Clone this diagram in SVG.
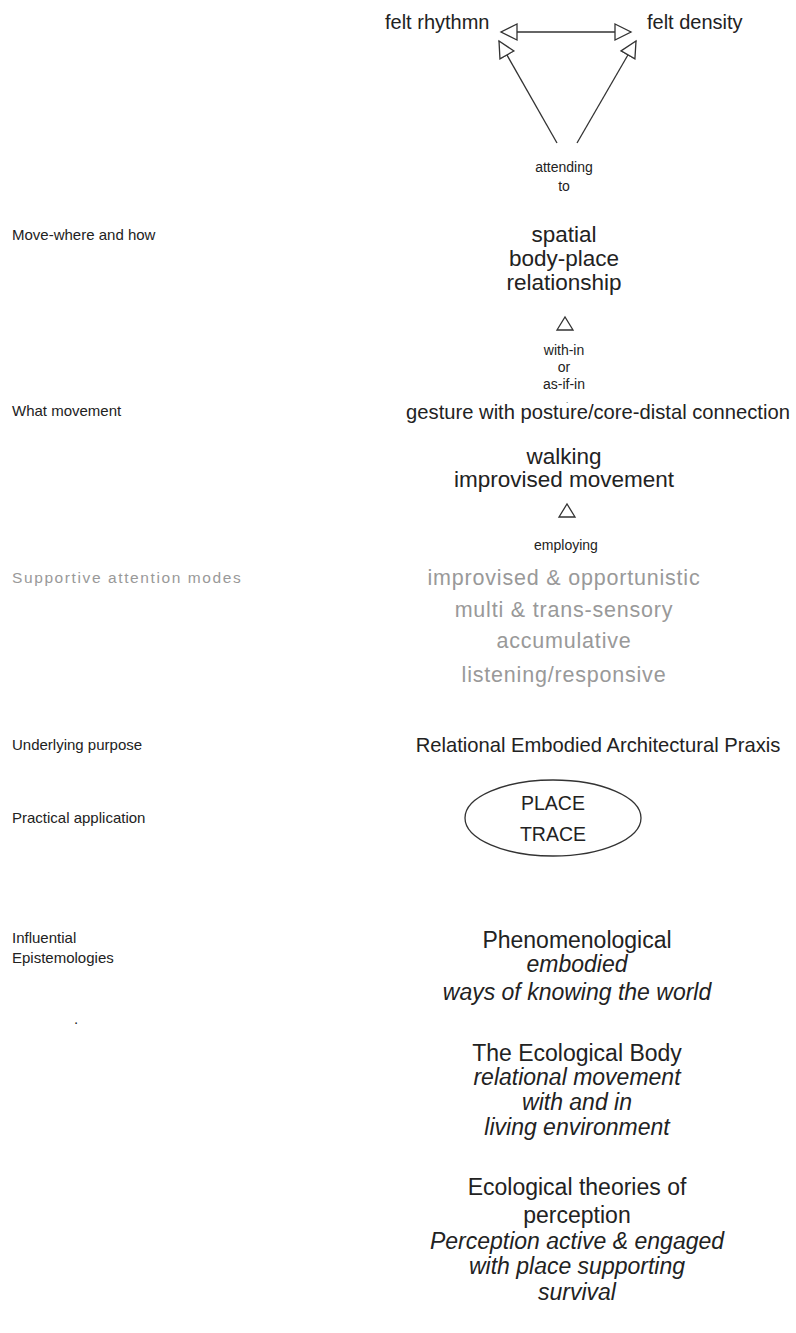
<svg xmlns="http://www.w3.org/2000/svg" width="796" height="1333" viewBox="0 0 796 1333">
  <style>
    text { font-family: "Liberation Sans", Arial, sans-serif; fill: #222; }
    .big { font-size: 22.5px; text-anchor: middle; }
    .wide { font-size: 20.2px; text-anchor: middle; }
    .felt { font-size: 20px; }
    .low { font-size: 23px; text-anchor: middle; }
    .lab { font-size: 14px; text-anchor: middle; }
    .side { font-size: 15px; }
    .mode { font-size: 21.5px; text-anchor: middle; fill: #999; letter-spacing: 0.8px; }
    .it { font-style: italic; }
    .line { stroke: #333; stroke-width: 1.3; fill: none; }
    .tri { stroke: #333; stroke-width: 1.3; fill: #fff; }
  </style>
  <defs>
    <marker id="openArrow" markerUnits="userSpaceOnUse" markerWidth="20" markerHeight="20" refX="17" refY="9" orient="auto-start-reverse" viewBox="0 0 20 18">
      <path d="M1,1 L17,9 L1,17 Z" fill="#fff" stroke="#333" stroke-width="1.3"/>
    </marker>
  </defs>
  <rect width="796" height="1333" fill="#fff"/>

  <!-- connectors -->
  <g id="connectors">
    <line class="line" x1="501" y1="32" x2="631" y2="32" marker-start="url(#openArrow)" marker-end="url(#openArrow)"/>
    <line class="line" x1="557" y1="143" x2="499" y2="41" marker-end="url(#openArrow)"/>
    <line class="line" x1="577" y1="143" x2="636" y2="41" marker-end="url(#openArrow)"/>
    <polygon class="tri" points="557,330 573,330 565,317"/>
    <polygon class="tri" points="559,517 575,517 567,504"/>
  </g>

  <!-- row labels -->
  <g id="row-labels">
    <text class="side" x="12" y="240">Move-where and how</text>
    <text class="side" x="12" y="416">What movement</text>
    <text class="side" x="12" y="583" style="font-size:15.5px;fill:#999;letter-spacing:1.6px">Supportive attention modes</text>
    <text class="side" x="12" y="750">Underlying purpose</text>
    <text class="side" x="12" y="823">Practical application</text>
    <text class="side" x="12" y="943">Influential</text>
    <text class="side" x="12" y="963">Epistemologies</text>
    <text class="side" x="74" y="1024">.</text>
  </g>

  <g id="felt-rhythmn"><text class="felt" x="385" y="29">felt rhythmn</text></g>
  <g id="felt-density"><text class="felt" x="647" y="29">felt density</text></g>
  <g id="attending-to">
    <text class="lab" x="564" y="172">attending</text>
    <text class="lab" x="564" y="191">to</text>
  </g>

  <g id="spatial-relationship">
    <text class="big" x="564" y="242">spatial</text>
    <text class="big" x="564" y="266">body-place</text>
    <text class="big" x="564" y="290">relationship</text>
  </g>
  <g id="with-in">
    <text class="lab" x="564" y="355">with-in</text>
    <text class="lab" x="564" y="372">or</text>
    <text class="lab" x="564" y="389">as-if-in</text>
    <text class="lab" x="567" y="403" style="font-size:8px">.</text>
  </g>

  <g id="what-movement"><text class="wide" x="598" y="419">gesture with posture/core-distal connection</text></g>
  <g id="walking">
    <text class="big" x="564" y="464">walking</text>
    <text class="big" x="564" y="487">improvised movement</text>
  </g>
  <g id="employing"><text class="lab" x="566" y="550">employing</text></g>

  <g id="attention-modes">
    <text class="mode" x="564" y="585">improvised &amp; opportunistic</text>
    <text class="mode" x="564" y="617">multi &amp; trans-sensory</text>
    <text class="mode" x="564" y="648">accumulative</text>
    <text class="mode" x="564" y="682">listening/responsive</text>
  </g>

  <g id="purpose"><text class="wide" x="598" y="752">Relational  Embodied Architectural Praxis</text></g>

  <g id="place-trace">
    <ellipse class="line" cx="553" cy="818" rx="88" ry="38"/>
    <text class="big" x="553" y="810" style="font-size:19.5px">PLACE</text>
    <text class="big" x="553" y="841" style="font-size:19.5px">TRACE</text>
  </g>

  <g id="phenomenological">
    <text class="low" x="577" y="948">Phenomenological</text>
    <text class="low it" x="577" y="972">embodied</text>
    <text class="low it" x="577" y="1000">ways of knowing  the world</text>
  </g>
  <g id="ecological-body">
    <text class="low" x="577" y="1061">The Ecological Body</text>
    <text class="low it" x="577" y="1085">relational movement</text>
    <text class="low it" x="577" y="1110">with  and in</text>
    <text class="low it" x="577" y="1135">living environment</text>
  </g>
  <g id="ecological-perception">
    <text class="low" x="577" y="1195">Ecological theories of</text>
    <text class="low" x="577" y="1223">perception</text>
    <text class="low it" x="577" y="1249">Perception active &amp; engaged</text>
    <text class="low it" x="577" y="1274">with  place supporting</text>
    <text class="low it" x="577" y="1300">survival</text>
  </g>
</svg>
